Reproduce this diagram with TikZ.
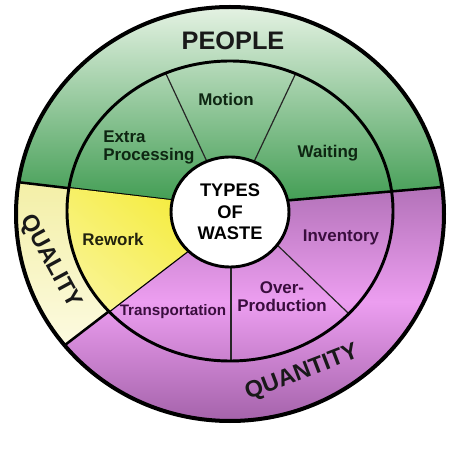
\documentclass[tikz,border=0pt]{standalone}
\usepackage{fontspec}
\setmainfont{Liberation Sans}
\usepackage{xcolor}
\usepackage{tikz}

\definecolor{pplTop}{HTML}{EAF5E8}
\definecolor{pplBot}{HTML}{3E9B50}
\definecolor{qtyTop}{HTML}{B070B6}
\definecolor{qtyMid}{HTML}{EC9EF0}
\definecolor{qtyBot}{HTML}{A462AA}
\definecolor{qltTop}{HTML}{F3EFA6}
\definecolor{qltBot}{HTML}{FFFEF2}
\definecolor{rwkTop}{HTML}{F5EC3E}
\definecolor{rwkBot}{HTML}{FCF9C8}
\definecolor{greenInk}{HTML}{0E2612}
\definecolor{purpleInk}{HTML}{3A0E3E}
\definecolor{yellowInk}{HTML}{22220E}

\begin{document}
\begin{tikzpicture}[x=0.75pt,y=0.75pt,
  border/.style={draw=black, line width=3pt},
  ring/.style={draw=black, line width=2.2pt},
  divider/.style={draw=black, line width=1.9pt},
  spoke/.style={draw=black!85, line width=0.9pt},
  areaname/.style={inner sep=0.75pt, font=\bfseries\fontsize{17.5}{20}\selectfont, text=black!90},
  wastename/.style={inner sep=0.75pt, align=center, font=\bfseries\fontsize{12.7}{13.2}\selectfont}]
\useasboundingbox (0,0) rectangle (464,457);

%Shaded areas of the outer ring
\begin{scope}
\clip (230,243) ellipse [x radius=214, y radius=207];
\shade [top color=qtyTop, bottom color=qtyBot, middle color=qtyMid] (0,35) rectangle (464,275);
\shade [top color=pplTop, bottom color=pplBot] (0,277) -- (230,250) -- (464,272) -- (464,457) -- (0,457) -- cycle;
\shade [top color=qltTop, bottom color=qltBot] (0,277) -- (230,250) -- (230,238.5) -- (0,62.2) -- cycle;
%Straight Lines
\draw [divider] (190,254.4) -- (5,276.4);
\draw [divider] (270,255.1) -- (460,271.5);
\draw [divider] (200,215.5) -- (40,92.8);
\end{scope}

%Shaded area of the inner ring
\begin{scope}
\clip (230,246) ellipse [x radius=163, y radius=150];
\shade [top color=rwkTop, bottom color=rwkBot, shading angle=-40] (0,277) -- (230,250) -- (230,238.5) -- (0,62.2) -- cycle;
%Straight Lines
\draw [spoke] (209,291) -- (161.3,393.2);
\draw [spoke] (252,291) -- (299.7,392);
\draw [spoke] (231,196) -- (231,80);
\draw [spoke] (273,216) -- (358.2,134.3);
\end{scope}

%Shape: Ellipse
\draw [ring] (230,246) ellipse [x radius=163, y radius=150];
\draw [ring, fill=white] (230,245) ellipse [x radius=59, y radius=55];
\draw [border] (230,243) ellipse [x radius=214, y radius=207];

% Text Node
\node (people) at (233,416) [areaname, font=\bfseries\fontsize{19}{21}\selectfont] {PEOPLE};
% Text Node
\node (quality) at (50.3,195.5) [areaname, rotate=-61.5] {QUALITY};
% Text Node
\node (quantity) at (302,84) [areaname, rotate=21] {QUANTITY};
% Text Node
\node (motion) at (226,358) [wastename, text=greenInk] {Motion};
% Text Node
\node (extra) at (102,309.5) [wastename, anchor=west, align=left, text=greenInk] {Extra\\Processing};
% Text Node
\node (waiting) at (328,304) [wastename, text=greenInk] {Waiting};
% Text Node
\node (types) at (230,245) [wastename, font=\bfseries\fontsize{13.7}{16}\selectfont] {TYPES\\OF\\WASTE};
% Text Node
\node (rework) at (113,218) [wastename, text=yellowInk] {Rework};
% Text Node
\node (inventory) at (341,220) [wastename, text=purpleInk] {Inventory};
% Text Node
\node (overprod) at (282,160) [wastename, text=purpleInk, font=\bfseries\fontsize{12.7}{13.5}\selectfont] {Over-\\Production};
% Text Node
\node (transport) at (173,145) [wastename, text=purpleInk, font=\bfseries\fontsize{11.4}{13}\selectfont] {Transportation};

\end{tikzpicture}
\end{document}
